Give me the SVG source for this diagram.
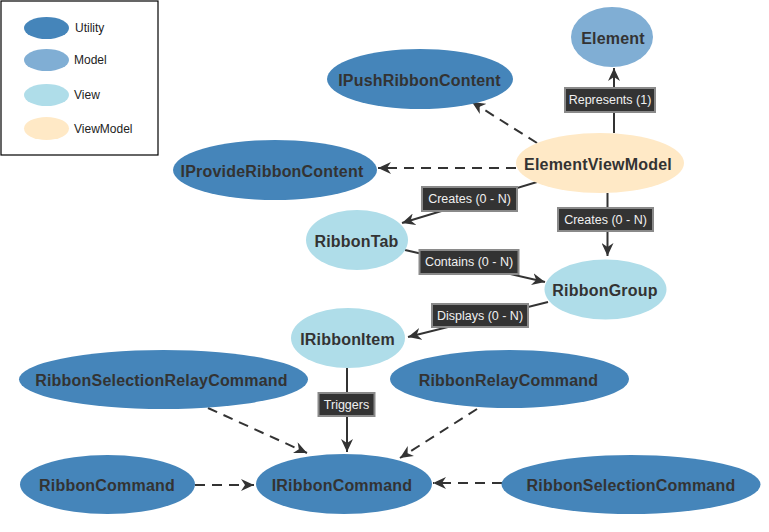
<svg xmlns="http://www.w3.org/2000/svg" width="769" height="532" viewBox="0 0 769 532">
<style>
.util{fill:#4585ba}
.model{fill:#80aed4}
.view{fill:#afdde9}
.vm{fill:#ffe9c6}
.nt{font-family:"Liberation Sans",Arial,sans-serif;font-weight:bold;font-size:16px;letter-spacing:0.2px;fill:#333;text-anchor:middle;dominant-baseline:central}
.lg{font-family:"Liberation Sans",Arial,sans-serif;font-size:12px;fill:#222;dominant-baseline:central}
.e{stroke:#333;stroke-width:2;fill:none;marker-end:url(#ah)}
.d{stroke-dasharray:10,7}
.lb rect{fill:#333;stroke:#8a8a8a;stroke-width:2}
.lb text{font-family:"Liberation Sans",Arial,sans-serif;font-size:12.5px;fill:#f0f0f0;text-anchor:middle;dominant-baseline:central}
</style>
<defs>
<marker id="ah" markerUnits="userSpaceOnUse" markerWidth="14" markerHeight="12" refX="13" refY="6" orient="auto">
<path d="M0,0 L13,6 L0,12 L4,6 Z" fill="#333"/>
</marker>
</defs>
<rect width="769" height="532" fill="#fff"/>
<g id="legend">
<rect x="1" y="1" width="157" height="154" fill="#fff" stroke="#000" stroke-width="1.2"/>
<ellipse class="util" cx="46.5" cy="28" rx="22.5" ry="11"/>
<text class="lg" x="75" y="28">Utility</text>
<ellipse class="model" cx="46.5" cy="60" rx="22.5" ry="11"/>
<text class="lg" x="74" y="60">Model</text>
<ellipse class="view" cx="46.5" cy="95" rx="22.5" ry="11"/>
<text class="lg" x="74" y="95">View</text>
<ellipse class="vm" cx="46.5" cy="128.5" rx="22.5" ry="11.5"/>
<text class="lg" x="74" y="128.5">ViewModel</text>
</g>
<g id="connectors">
<line class="e" x1="614" y1="133" x2="614" y2="68"/>
<line class="e d" x1="537" y1="143" x2="472" y2="102"/>
<line class="e d" x1="516" y1="168" x2="378" y2="168"/>
<line class="e" x1="537" y1="182" x2="402" y2="223"/>
<line class="e" x1="607.5" y1="193" x2="607.5" y2="256"/>
<line class="e" x1="405" y1="250" x2="545" y2="282"/>
<line class="e" x1="548" y1="302" x2="408" y2="337"/>
<line class="e" x1="347" y1="368" x2="347" y2="452"/>
<line class="e d" x1="208" y1="408" x2="307" y2="453"/>
<line class="e d" x1="477" y1="409" x2="400" y2="458"/>
<line class="e d" x1="195" y1="485" x2="254" y2="485"/>
<line class="e d" x1="502" y1="483" x2="433" y2="483"/>
<g class="lb"><rect x="565" y="88" width="90" height="24"/><text x="610" y="100">Represents (1)</text></g>
<g class="lb"><rect x="422" y="187" width="95" height="24"/><text x="469.5" y="199">Creates (0 - N)</text></g>
<g class="lb"><rect x="558" y="208" width="95" height="23"/><text x="605.5" y="219.5">Creates (0 - N)</text></g>
<g class="lb"><rect x="419.5" y="250" width="99" height="24"/><text x="469" y="262">Contains (0 - N)</text></g>
<g class="lb"><rect x="432" y="304" width="96" height="23"/><text x="480" y="315.5">Displays (0 - N)</text></g>
<g class="lb"><rect x="318.5" y="393" width="56" height="23"/><text x="346.5" y="404.5">Triggers</text></g>
</g>
<g id="Element"><ellipse class="model" cx="612" cy="37" rx="41" ry="30"/><text class="nt" x="613" y="38">Element</text></g>
<g id="IPushRibbonContent"><ellipse class="util" cx="420" cy="79" rx="93" ry="30"/><text class="nt" x="419.5" y="80">IPushRibbonContent</text></g>
<g id="ElementViewModel"><ellipse class="vm" cx="600" cy="163" rx="84" ry="30"/><text class="nt" x="598" y="164">ElementViewModel</text></g>
<g id="IProvideRibbonContent"><ellipse class="util" cx="275" cy="170" rx="102" ry="30"/><text class="nt" x="272" y="171">IProvideRibbonContent</text></g>
<g id="RibbonTab"><ellipse class="view" cx="357" cy="240" rx="51" ry="30"/><text class="nt" x="356.5" y="241">RibbonTab</text></g>
<g id="RibbonGroup"><ellipse class="view" cx="605.5" cy="289.5" rx="61" ry="30"/><text class="nt" x="605" y="290.5">RibbonGroup</text></g>
<g id="IRibbonItem"><ellipse class="view" cx="348" cy="338" rx="57" ry="30"/><text class="nt" x="347.5" y="339">IRibbonItem</text></g>
<g id="RibbonSelectionRelayCommand"><ellipse class="util" cx="163.5" cy="379.5" rx="144.5" ry="29.5"/><text class="nt" x="161.5" y="380.5">RibbonSelectionRelayCommand</text></g>
<g id="RibbonRelayCommand"><ellipse class="util" cx="509.5" cy="379" rx="119.5" ry="29"/><text class="nt" x="508.5" y="380">RibbonRelayCommand</text></g>
<g id="RibbonCommand"><ellipse class="util" cx="107.5" cy="484.5" rx="87.5" ry="29.5"/><text class="nt" x="107" y="485.5">RibbonCommand</text></g>
<g id="IRibbonCommand"><ellipse class="util" cx="344" cy="484" rx="88" ry="30"/><text class="nt" x="342" y="485">IRibbonCommand</text></g>
<g id="RibbonSelectionCommand"><ellipse class="util" cx="631" cy="484.5" rx="129.5" ry="29.5"/><text class="nt" x="631" y="485.5">RibbonSelectionCommand</text></g>
</svg>
